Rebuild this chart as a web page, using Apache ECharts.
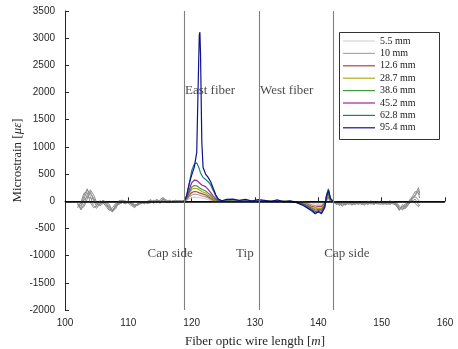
<!DOCTYPE html>
<html>
<head>
<meta charset="utf-8">
<script src="https://cdn.jsdelivr.net/npm/echarts@6/dist/echarts.min.js"></script>
<style>
  html, body { margin: 0; padding: 0; background: #fff; }
  #chart { width: 458px; height: 349px; }
</style>
</head>
<body>
<div id="chart"></div>
<script>
// Strain profile along the fiber, one trace per displacement step
const seriesNames = ['5.5 mm', '10 mm', '12.6 mm', '28.7 mm', '38.6 mm', '45.2 mm', '62.8 mm', '95.4 mm'];
const seriesColors = ['#d6d6d6', '#a8a8a8', '#b5403f', '#b3ad1c', '#3f9a3a', '#a0229c', '#1a7f7a', '#10128c'];

// Fiber positions [m] across the instrumented section
const peakX = [118.8, 119.2, 119.6, 120.0, 120.4, 120.8, 121.0, 121.2, 121.3, 121.4, 121.6, 121.8,
  122.2, 122.6, 123.0, 123.4, 123.8, 124.2, 124.8, 125.5, 126.5, 127.5, 128.5, 129.5, 130.5,
  131.5, 132.5, 133.5, 134.5, 135.5, 136.5, 137.5, 138.5, 139.0, 139.5, 140.0, 140.5, 141.0,
  141.3, 141.6, 141.9, 142.3];

const strain5_5 = [0, 15, 45, 65, 75, 72, 70, 67, 65, 62, 60, 55, 45, 30, 15, 5, 0, 0, 0, 0, 0, 0, 0, 0, 0,
  0, 0, 0, 0, 0, -5, -10, -25, -35, -45, -40, -40, -15, 10, 30, 0, 0];
const strain10 = [0, 25, 80, 115, 130, 125, 120, 115, 110, 105, 100, 95, 80, 60, 35, 15, 0, 0, 0, 0, 0, 0, 0, 0, 0,
  0, 0, 0, 0, 0, -5, -20, -45, -65, -80, -70, -70, -30, 20, 60, 5, 0];
const strain12_6 = [0, 35, 110, 160, 180, 175, 165, 155, 150, 145, 140, 130, 115, 85, 55, 25, 5, 0, 0, 5, 0, 0, 5, 0, 0,
  0, 0, 0, 0, -5, -10, -30, -65, -95, -110, -100, -100, -40, 40, 90, 10, 0];
const strain28_7 = [0, 45, 140, 215, 240, 235, 225, 210, 200, 190, 180, 170, 150, 115, 80, 40, 15, 0, 0, 0, 5, 0, 0, 5, 0,
  0, 5, 0, 0, 0, -10, -35, -80, -115, -140, -130, -130, -60, 60, 120, 20, 0];
const strain38_6 = [0, 50, 160, 260, 290, 285, 270, 250, 240, 230, 220, 210, 190, 150, 110, 60, 25, 5, 0, 5, 0, 5, 0, 0, 5,
  0, 0, 5, 0, 0, -10, -40, -90, -130, -160, -150, -150, -70, 80, 140, 30, 0];
const strain45_2 = [0, 70, 200, 340, 390, 385, 370, 340, 320, 310, 300, 290, 270, 220, 160, 100, 50, 15, 0, 5, 0, 0, 5, 0, 0,
  5, 0, 0, -5, -5, -15, -50, -110, -150, -190, -170, -180, -90, 100, 180, 40, 0];
const strain62_8 = [0, 90, 300, 560, 680, 710, 690, 600, 560, 520, 480, 440, 400, 360, 300, 200, 100, 30, 5, 10, 0, 5, 0, 10, 0,
  5, 0, -5, 0, -10, -20, -60, -130, -170, -220, -200, -210, -110, 120, 230, 50, 0];
const strain95_4 = [0, 100, 320, 480, 620, 900, 2000, 3050, 3110, 2700, 1100, 620, 500, 440, 360, 240, 120, 40, 10, 35, 40, 15, 35, 5, 30,
  15, -5, 25, -10, 10, -20, -70, -140, -180, -230, -190, -230, -120, 100, 200, 60, 0];

const strainSets = [strain5_5, strain10, strain12_6, strain28_7, strain38_6, strain45_2, strain62_8, strain95_4];

// Readings on the free lengths either side of the section
const leftX = [102, 102.5, 103, 103.5, 104, 104.5, 105, 105.5, 106, 106.5, 107, 107.5, 108, 108.5, 109, 109.5,
  110, 110.5, 111, 111.5, 112, 112.5, 113, 113.5, 114, 114.5, 115, 115.5, 116, 116.5, 117, 117.5, 118, 118.8];
const rightX = [142.3, 142.8, 143.3, 143.8, 144.3, 144.8, 145.3, 145.8, 146.3, 146.8, 147.3, 147.8, 148.3, 148.8,
  149.3, 149.8, 150.3, 150.8, 151.3, 151.8, 152.3, 152.8, 153.3, 153.8, 154.3, 154.8, 155.3, 155.8, 156.0];

const freeLeftA = [-60, -120, 40, 200, 150, 60, -40, -20, 10, -60, -150, -190, -80, -20, 10, -30, 0, -40, -90, -60, -20, -30, -20, 10, -30, 20, -40, 30, -20, 0, -10, 10, -5, 0];
const freeLeftB = [-100, -80, 100, 230, 90, -80, -130, -40, 20, -20, -90, -150, -120, -40, 0, -20, 10, -60, -100, -30, -10, -40, -10, 30, -10, 40, -20, 50, 10, -20, 5, 20, 0, 0];
const freeLeftC = [-30, -160, -50, 120, 180, 20, -100, -60, -10, -40, -120, -200, -60, 10, 20, 0, -30, -30, -70, -50, -40, -20, -30, -20, 20, -30, 30, 70, -10, 20, -20, 0, 10, 0];
const freeLeftD = [-80, -40, 20, 80, 60, 40, -60, -50, -30, -80, -110, -160, -100, -40, -20, -40, -20, -50, -80, -70, -30, -10, -40, 0, -20, 10, -10, 40, -30, 10, 0, -10, 0, 0];
const freeLeftE = [-120, -20, 150, 160, -20, -120, -80, 10, -20, -100, -170, -120, -40, -60, -30, 10, -40, -80, -120, -40, -50, 0, -40, -30, 10, -20, 20, 0, 30, -30, 10, -5, 0, 0];
const freeLeftF = [-40, -140, -100, 40, 210, 120, -20, -90, -40, 0, -60, -180, -140, 0, -10, -50, -10, -20, -60, -80, 0, -50, 0, 20, -40, 30, -30, 60, 0, 10, -10, 0, 5, 0];

const freeRightA = [0, -40, -60, -20, -50, -10, -60, -30, -40, -20, -50, -30, 10, -40, -20, 0, -30, -60, -20, -10, -60, -150, -90, -120, -30, 50, 120, 250, 150];
const freeRightB = [0, -20, -80, -40, -30, -60, -20, -50, -20, -60, -20, -40, -10, -30, -50, -10, -40, -20, -40, 0, -40, -110, -160, -60, 0, 80, 180, 150, 60];
const freeRightC = [0, -60, -30, -70, -20, -40, -50, -10, -60, -30, -40, 0, -30, -20, -10, -40, -60, -30, 10, -30, -80, -170, -60, -100, -20, 20, -40, -100, -60];
const freeRightD = [0, -30, -50, -10, -60, -30, -20, -60, -30, -40, -10, -50, -40, -60, -20, -30, -20, -50, -30, -20, -50, -130, -120, -80, 10, 60, 80, 30, -20];
const freeRightE = [0, -10, -40, -90, -40, -20, -70, -40, -10, -50, -70, -20, -50, -10, -40, -60, -10, -40, -60, -30, -20, -90, -140, -130, -50, 30, 100, 200, 120];
const freeRightF = [0, -50, -20, -50, -70, -20, -40, -20, -50, -10, -30, -60, -20, -50, -30, -20, -50, -10, -30, -50, -70, -160, -100, -40, -40, 0, 40, -60, -90];

const freeLeftSets = [freeLeftA, freeLeftB, freeLeftC, freeLeftD, freeLeftE, freeLeftF];
const freeRightSets = [freeRightA, freeRightB, freeRightC, freeRightD, freeRightE, freeRightF];

// Section boundaries [m]
const boundaryX = [118.75, 130.6, 142.3];

// Text annotations
const noteText = ['East fiber', 'West fiber', 'Cap side', 'Tip', 'Cap side'];
const noteX = [122.9, 135.0, 116.6, 128.4, 144.5];
const noteY = [2030, 2030, -970, -970, -970];

// Axis ranges
const xMin = 100, xMax = 160, xStep = 10;
const yMin = -2000, yMax = 3500, yStep = 500;

const serif = 'Liberation Serif';
const sans = 'Liberation Sans';

const series = [];

freeLeftSets.forEach((vals, i) => {
  const pts = leftX.map((x, k) => [x, vals[k]]);
  pts.push(null);
  rightX.forEach((x, k) => pts.push([x, freeRightSets[i][k]]));
  series.push({
    type: 'line', data: pts, showSymbol: false, symbol: 'none', silent: true,
    connectNulls: false, z: 2,
    lineStyle: { color: '#8e8e8e', width: 1 }
  });
});

strainSets.forEach((vals, i) => {
  series.push({
    name: seriesNames[i], type: 'line', symbol: 'none', silent: true, z: 3 + i * 0.01,
    data: peakX.map((x, k) => [x, vals[k]]),
    color: seriesColors[i],
    lineStyle: { color: seriesColors[i], width: 1.2 }
  });
});

// Zero reference and section boundaries
series.push({
  type: 'line', data: [], silent: true, z: 5,
  markLine: {
    silent: true, symbol: ['none', 'none'], label: { show: false },
    animation: false,
    data: [
      { yAxis: 0, lineStyle: { color: '#000', width: 1.6, type: 'solid' } },
      ...boundaryX.map(v => ({ xAxis: v, lineStyle: { color: '#808080', width: 1.1, type: 'solid' } }))
    ]
  }
});

series.push({
  type: 'scatter', symbolSize: 0, silent: true, z: 6,
  data: noteX.map((x, k) => ({ value: [x, noteY[k]], name: noteText[k] })),
  label: {
    show: true, position: 'inside', formatter: p => p.name,
    fontFamily: serif, fontSize: 13, color: '#1a1a1a'
  }
});

const chart = echarts.init(document.getElementById('chart'), null, { renderer: 'canvas' });
chart.setOption({
  animation: false,
  backgroundColor: '#fff',
  grid: { left: 65, right: 13, top: 11, bottom: 39, containLabel: false, outerBoundsMode: 'none' },
  xAxis: {
    type: 'value', min: xMin, max: xMax, interval: xStep,
    name: 'Fiber optic wire length [{i|m}]', nameLocation: 'middle', nameGap: 25,
    nameMoveOverlap: false,
    nameTextStyle: {
      fontFamily: serif, fontSize: 13, color: '#262626',
      rich: { i: { fontFamily: serif, fontStyle: 'italic', fontSize: 13, color: '#262626' } }
    },
    axisLine: { lineStyle: { color: '#262626', width: 1 } },
    axisTick: { inside: true, length: 4, lineStyle: { color: '#262626' } },
    axisLabel: { fontFamily: sans, fontSize: 10, color: '#262626', margin: 8, formatter: v => String(v) },
    splitLine: { show: false }
  },
  yAxis: {
    type: 'value', min: yMin, max: yMax, interval: yStep,
    name: 'Microstrain [{i|με}]', nameLocation: 'middle', nameGap: 41,
    nameMoveOverlap: false,
    nameTextStyle: {
      fontFamily: serif, fontSize: 13, color: '#262626',
      rich: { i: { fontFamily: serif, fontStyle: 'italic', fontSize: 13, color: '#262626' } }
    },
    axisLine: { show: true, lineStyle: { color: '#262626', width: 1 } },
    axisTick: { show: true, inside: true, length: 4, lineStyle: { color: '#262626' } },
    axisLabel: { fontFamily: sans, fontSize: 10, color: '#262626', margin: 10, formatter: v => String(v) },
    splitLine: { show: false }
  },
  legend: {
    data: seriesNames,
    orient: 'vertical', left: 339, top: 33,
    padding: [3, 4, 3, 4],
    icon: 'path://M0,0 L40,0 L40,1.5 L0,1.5 Z',
    itemWidth: 32, itemHeight: 10, itemGap: 2.4,
    textStyle: { fontFamily: serif, fontSize: 10, color: '#1a1a1a' },
    selectedMode: false,
    z: 10
  },
  graphic: [{
    type: 'rect', z: 8, silent: true,
    shape: { x: 339.5, y: 32.5, width: 100, height: 107 },
    style: { fill: '#fff', stroke: '#333', lineWidth: 1 }
  }],
  series: series
});
</script>
</body>
</html>
